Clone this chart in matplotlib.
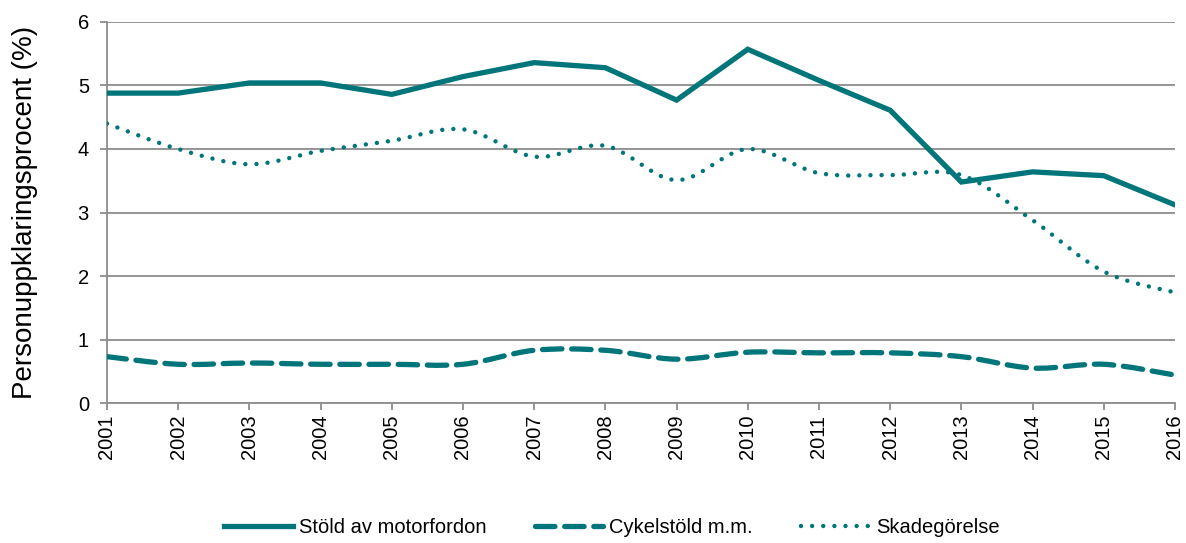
import numpy as np
import matplotlib
matplotlib.use('Agg')
import matplotlib.pyplot as plt
from matplotlib.path import Path
from matplotlib import patches
from matplotlib.lines import Line2D

plt.rcParams['font.family'] = ['Liberation Sans', 'DejaVu Sans']
plt.rcParams['lines.scale_dashes'] = False

years = np.arange(2001, 2017)
motorfordon = [4.88, 4.88, 5.04, 5.04, 4.86, 5.14, 5.36, 5.28, 4.77, 5.57,
               5.08, 4.61, 3.48, 3.64, 3.58, 3.12]
cykel = [0.73, 0.61, 0.63, 0.61, 0.61, 0.61, 0.83, 0.83, 0.69, 0.80,
         0.79, 0.79, 0.73, 0.55, 0.61, 0.44]
skadegorelse = [4.40, 4.00, 3.76, 3.97, 4.13, 4.31, 3.88, 4.05, 3.51, 4.00,
                3.62, 3.59, 3.59, 2.88, 2.07, 1.74]

labels = ['Stöld av motorfordon', 'Cykelstöld m.m.', 'Skadegörelse']
color = '#00757A'
gray = '#8c8c8c'


def smooth_path(x, y):
    # Excel-style smoothed line: cubic bezier through the points
    p = np.column_stack([x, y]).astype(float)
    n = len(p)
    verts = [p[0]]
    codes = [Path.MOVETO]
    for i in range(n - 1):
        p0 = p[i - 1] if i > 0 else p[i]
        p3 = p[i + 2] if i + 2 < n else p[i + 1]
        c1 = p[i] + (p[i + 1] - p0) / 6
        c2 = p[i + 1] - (p3 - p[i]) / 6
        verts += [c1, c2, p[i + 1]]
        codes += [Path.CURVE4] * 3
    return Path(verts, codes)


fig = plt.figure(figsize=(11.86, 5.43), dpi=100)
ax = fig.add_axes([0.0902, 0.2578, 0.9005, 0.7017])

ax.plot(years, motorfordon, color=color, lw=3.8, solid_joinstyle='miter', zorder=3)

dash_style = (0, (14, 7))
dot_style = (0, (0.01, 8))
ax.add_patch(patches.PathPatch(smooth_path(years, cykel), fill=False, edgecolor=color,
                               lw=3.8, linestyle=dash_style, capstyle='round', zorder=3))
ax.add_patch(patches.PathPatch(smooth_path(years, skadegorelse), fill=False, edgecolor=color,
                               lw=3.2, linestyle=dot_style, capstyle='round', zorder=3))

ax.set_xlim(2001, 2016)
ax.set_ylim(0, 6)
ax.set_yticks(range(0, 7))
ax.set_xticks(years)
ax.set_xticklabels([str(y) for y in years], rotation=90)
ax.grid(axis='y', color=gray, lw=1.3)
ax.set_axisbelow(True)
for s in ['top', 'right']:
    ax.spines[s].set_visible(False)
for s in ['left', 'bottom']:
    ax.spines[s].set_color(gray)
    ax.spines[s].set_linewidth(1.3)
ax.tick_params(axis='both', colors=gray, labelcolor='black', labelsize=14.5,
               length=5, width=1.3, direction='out')
ax.tick_params(axis='y', pad=8)
ax.set_ylabel('Personuppklaringsprocent (%)', fontsize=20)
ax.yaxis.set_label_coords(-0.065, 0.5)

handles = [
    Line2D([], [], color=color, lw=3.8),
    Line2D([], [], color=color, lw=3.8, linestyle=dash_style, dash_capstyle='round'),
    Line2D([], [], color=color, lw=3.2, linestyle=dot_style, dash_capstyle='round'),
]
fig.legend(handles, labels, loc='center', bbox_to_anchor=(0.516, 0.028), ncol=3,
           frameon=False, fontsize=14.5, handlelength=3.4, handletextpad=0.3,
           columnspacing=2.4)

fig.savefig('out.png', dpi=100)
